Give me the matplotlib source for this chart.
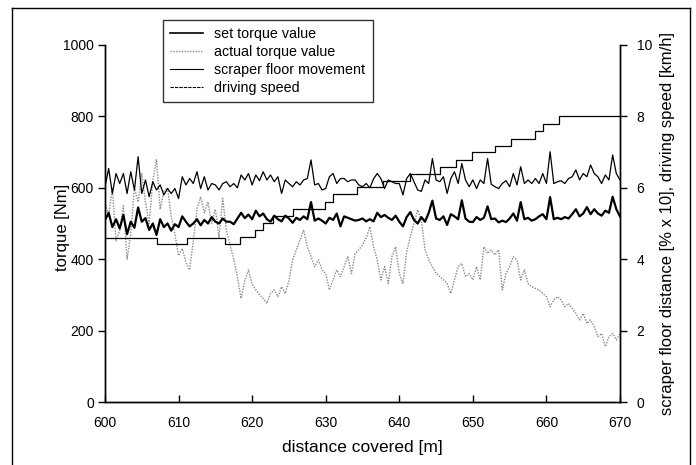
import numpy as np
import matplotlib
matplotlib.use("Agg")
import matplotlib.pyplot as plt
from matplotlib.lines import Line2D

plt.rcParams['font.family'] = ['Liberation Sans', 'DejaVu Sans']

# distance grid [m], 0.5 m sampling
distance = np.arange(600.0, 670.01, 0.5)

# set torque value [Nm]
set_torque = [
    510, 530, 490, 512, 486, 524, 470, 505, 488, 545,
    505, 515, 482, 500, 468, 512, 490, 500, 480, 498,
    490, 520, 505, 492, 500, 512, 495, 510, 500, 518,
    505, 500, 514, 505, 505, 498, 514, 530, 515, 525,
    512, 536, 520, 528, 512, 505, 522, 512, 506, 522,
    514, 502, 516, 510, 520, 512, 560, 508, 514, 508,
    500, 516, 510, 528, 492, 520, 516, 512, 508, 510,
    514, 506, 512, 506, 530, 518, 524, 516, 510, 522,
    505, 492, 518, 532, 510, 500, 518, 505, 530, 564,
    514, 510, 520, 496, 526, 520, 512, 565, 514, 505,
    504, 518, 510, 516, 548, 512, 514, 503, 508, 504,
    514, 528, 508, 560, 512, 516, 508, 512, 520, 526,
    512, 574, 512, 516, 512, 518, 514, 526, 540, 520,
    528, 546, 526, 540, 528, 522, 536, 530, 575, 540,
    520,
]

# actual torque value [Nm]
actual_torque = [
    560, 520, 600, 450, 480, 550, 400, 470, 600, 560,
    640, 560, 500, 620, 680, 540, 590, 600, 520, 470,
    410, 430, 390, 370, 450, 540, 575, 530, 560, 500,
    540, 460, 570, 480, 440, 400, 350, 290, 340, 370,
    330, 314, 300, 290, 276, 304, 314, 295, 323, 304,
    340, 398, 426, 454, 482, 435, 407, 379, 398, 370,
    360, 314, 342, 370, 351, 379, 407, 360, 416, 426,
    440, 460, 491, 435, 398, 342, 379, 332, 407, 435,
    360, 332, 420, 463, 500, 538, 510, 426, 398, 379,
    360, 351, 342, 332, 304, 342, 379, 388, 351, 360,
    342, 379, 342, 435, 416, 426, 412, 426, 314, 360,
    379, 407, 398, 342, 370, 332, 323, 318, 314, 304,
    295, 267, 286, 295, 286, 267, 276, 262, 248, 230,
    248, 220, 230, 211, 183, 192, 155, 183, 192, 174,
    192,
]

# scraper floor movement [% x 10] (right axis)
scraper_floor = [
    6.03, 6.54, 5.84, 6.40, 6.12, 6.40, 5.84, 6.45, 5.94, 6.87,
    5.84, 6.22, 5.75, 6.17, 5.94, 6.08, 5.80, 5.98, 5.84, 5.98,
    5.70, 6.31, 6.08, 6.26, 6.12, 6.45, 5.98, 6.31, 5.94, 6.12,
    6.08, 5.94, 6.12, 6.17, 6.03, 6.12, 6.00, 6.36, 6.22, 6.40,
    6.08, 6.36, 6.20, 6.45, 6.22, 6.36, 6.17, 6.31, 5.84, 6.22,
    6.12, 6.03, 6.17, 6.08, 6.22, 6.26, 6.78, 6.08, 6.12, 5.94,
    5.98, 6.31, 6.40, 6.12, 6.26, 6.26, 6.17, 6.22, 6.22, 6.08,
    6.03, 6.12, 6.00, 6.25, 6.40, 6.26, 5.98, 6.22, 6.17, 6.12,
    6.12, 5.80, 6.26, 6.40, 6.17, 5.94, 5.90, 6.22, 6.12, 6.82,
    6.22, 6.17, 6.31, 5.84, 6.26, 6.45, 6.12, 6.68, 6.22, 6.03,
    6.22, 5.98, 6.22, 6.12, 6.82, 6.10, 6.03, 5.98, 6.12, 6.20,
    6.03, 6.40, 6.08, 6.59, 6.12, 6.22, 6.12, 6.26, 6.12, 6.40,
    6.12, 7.01, 6.12, 6.17, 6.20, 6.12, 6.26, 6.31, 6.50, 6.22,
    6.40, 6.31, 6.64, 6.40, 6.31, 6.12, 6.36, 6.22, 6.92, 6.40,
    6.22,
]

# driving speed [km/h] (right axis) - step changes
speed_start = [600.0, 607.0, 611.1, 616.3, 618.4, 620.4, 621.5, 622.8, 625.6,
               629.9, 631.0, 634.2, 637.8, 641.4, 645.6, 647.7, 649.9, 653.0,
               655.2, 658.4, 659.5, 661.7, 670.0]
speed_value = [4.60, 4.42, 4.60, 4.42, 4.63, 4.82, 5.01, 5.20, 5.42,
               5.61, 5.84, 6.03, 6.20, 6.38, 6.58, 6.77, 6.99, 7.17,
               7.38, 7.59, 7.80, 8.01, 8.01]

W, H = 696, 465
fig = plt.figure(figsize=(W / 100, H / 100), dpi=100)
ax = fig.add_axes([105 / W, 1 - 402 / H, 515 / W, 357 / H])
ax2 = ax.twinx()

ax.plot(distance, actual_torque, color='#8a8a8a', lw=1.0, ls=(0, (1, 1)), zorder=2)
ax.plot(distance, set_torque, color='black', lw=1.6, zorder=4)
ax2.plot(distance, scraper_floor, color='black', lw=0.9, zorder=3)
ax2.step(speed_start, speed_value, where='post', color='black', lw=0.9, zorder=3)

ax.set_xlim(600, 670)
ax.set_ylim(0, 1000)
ax2.set_ylim(0, 10)
ax.set_xticks(np.arange(600, 671, 10))
ax.set_yticks(np.arange(0, 1001, 200))
ax2.set_yticks(np.arange(0, 11, 2))

for a in (ax, ax2):
    a.spines['top'].set_visible(False)
    for s in a.spines.values():
        s.set_linewidth(1.0)
ax.tick_params(axis='y', direction='out', length=5, width=1, labelsize=10, pad=3)
ax.tick_params(axis='x', direction='in', length=5, width=1, labelsize=10, pad=10)
ax2.tick_params(axis='y', direction='out', length=5, width=1, labelsize=10, pad=7)

ax.set_xlabel('distance covered [m]', fontsize=12.5)
ax.xaxis.set_label_coords(0.5, -(440 - 402) / 357)
ax.set_ylabel('torque [Nm]', fontsize=12)
ax.yaxis.set_label_coords((70 - 105) / 515, 0.49)
ax2.set_ylabel('scraper floor distance [% x 10], driving speed [km/h]', fontsize=12)
ax2.yaxis.set_label_coords((660 - 105) / 515, 0.5)

handles = [
    Line2D([], [], color='black', lw=1.2),
    Line2D([], [], color='#8a8a8a', lw=1.0, ls=(0, (1, 1))),
    Line2D([], [], color='black', lw=0.8),
    Line2D([], [], color='black', lw=0.8, ls=(0, (3, 1))),
]
labels = ['set torque value', 'actual torque value', 'scraper floor movement', 'driving speed']
leg = fig.legend(handles, labels, loc='upper left', bbox_to_anchor=(163 / W, 1 - 20 / H),
                 frameon=True, fancybox=False, shadow=False, fontsize=10.3,
                 handlelength=2.3, handletextpad=0.8, labelspacing=0.28,
                 borderpad=0.5, borderaxespad=0)
leg.get_frame().set_edgecolor('black')
leg.get_frame().set_linewidth(1.0)
leg.set_zorder(10)

# outer frame around the figure
fx0, fx1, fy1 = 12 / W, 690 / W, 1 - 8 / H
fig.add_artist(Line2D([fx0, fx0], [0, fy1], transform=fig.transFigure, color='black', lw=1))
fig.add_artist(Line2D([fx0, fx1], [fy1, fy1], transform=fig.transFigure, color='black', lw=1))
fig.add_artist(Line2D([fx1, fx1], [0, fy1], transform=fig.transFigure, color='black', lw=1))

fig.savefig('out.png', dpi=100)
